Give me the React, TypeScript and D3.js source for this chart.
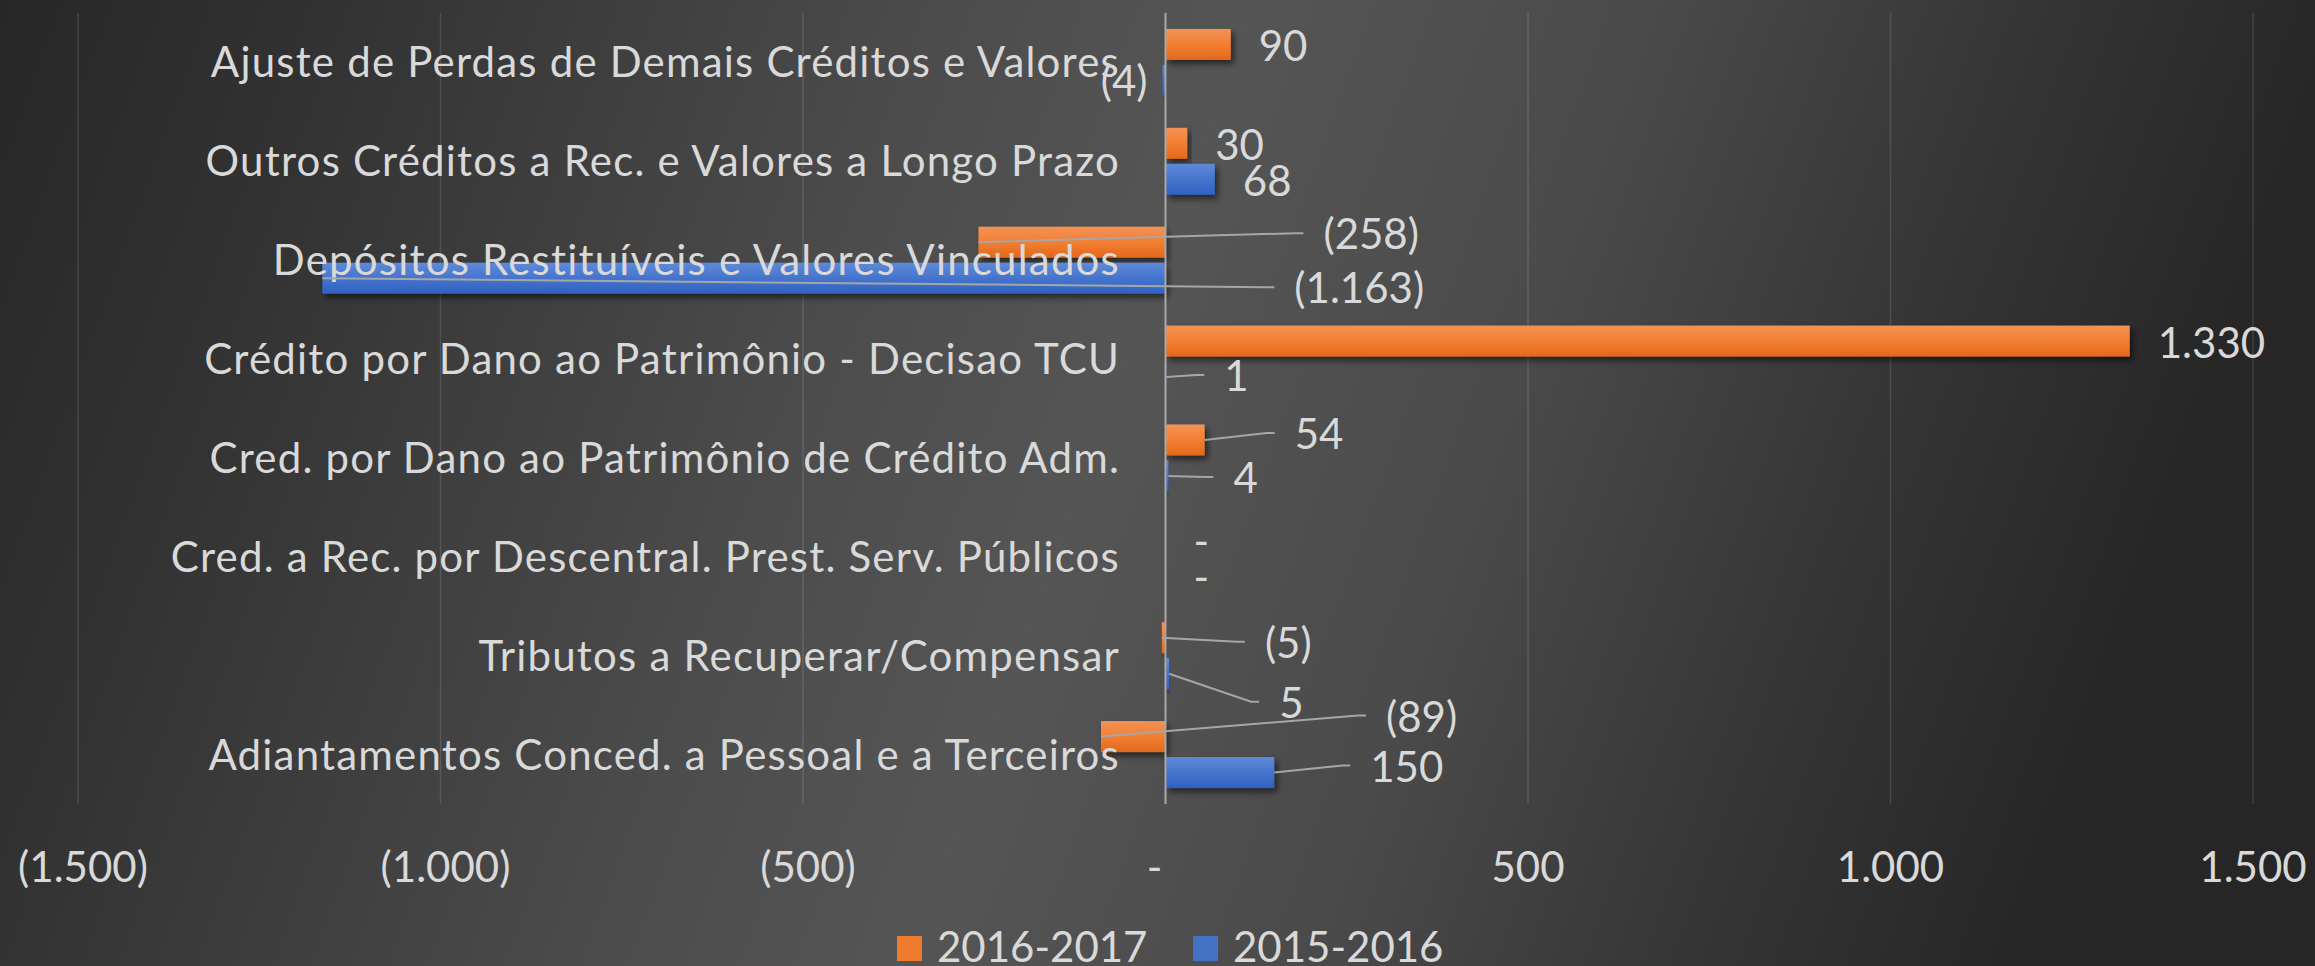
import React from "react";
import * as d3 from "d3";

const categories = [
  "Ajuste de Perdas de Demais Créditos e Valores",
  "Outros Créditos a Rec. e Valores a Longo Prazo",
  "Depósitos Restituíveis e Valores Vinculados",
  "Crédito por Dano ao Patrimônio - Decisao TCU",
  "Cred. por Dano ao Patrimônio de Crédito Adm.",
  "Cred. a Rec. por Descentral. Prest. Serv. Públicos",
  "Tributos a Recuperar/Compensar",
  "Adiantamentos Conced. a Pessoal e a Terceiros",
];
const seriesNames = ["2016-2017", "2015-2016"];
const values20162017 = [90, 30, -258, 1330, 54, 0, -5, -89];
const values20152016 = [-4, 68, -1163, 1, 4, 0, 5, 150];
const xTicks = [-1500, -1000, -500, 0, 500, 1000, 1500];

// manual label placements (Excel moved labels with leader lines): [dx from bar end, dy from bar centre]
const labelMoves: Record<string, [number, number]> = {
  "0-2": [345, -8],
  "1-2": [972, 10],
  "1-3": [58, -1],
  "0-4": [90, -6],
  "1-4": [65, 2],
  "0-6": [103, 5],
  "1-6": [110, 29],
  "0-7": [285, -20],
  "1-7": [96, -6],
};

const W = 2315;
const H = 966;
const FONT = "Lato, 'Open Sans', sans-serif";
const TEXT = "#d9d9d9";

const locale = d3.formatLocale({ decimal: ",", thousands: ".", grouping: [3], currency: ["", ""] });
const fmtInt = locale.format(",d");
const acct = (v: number) => (v === 0 ? "-" : v < 0 ? `(${fmtInt(-v)})` : fmtInt(v));

export default function App() {
  const x = d3.scaleLinear().domain([-1500, 1500]).range([78, 2253]);
  const y = d3
    .scaleBand<string>()
    .domain(categories)
    .range([13, 804])
    .paddingInner(0.3225)
    .paddingOuter(0.16125);
  const yi = d3.scaleBand<string>().domain(seriesNames).range([0, y.bandwidth()]).paddingInner(0.139);
  const seriesValues = [values20162017, values20152016];
  const fills = ["url(#gOrange)", "url(#gBlue)"];
  const legendSwatch = ["#ef7b2f", "#4472c4"];
  const x0 = x(0);

  const bars: JSX.Element[] = [];
  const leaders: JSX.Element[] = [];
  const labels: JSX.Element[] = [];

  seriesValues.forEach((vals, si) => {
    vals.forEach((v, ci) => {
      const cat = categories[ci];
      const top = (y(cat) as number) + (yi(seriesNames[si]) as number);
      const h = yi.bandwidth();
      const cy = top + h / 2;
      const xe = x(v);
      if (v !== 0) {
        bars.push(
          <rect
            key={`b${si}-${ci}`}
            x={Math.min(x0, xe)}
            y={top}
            width={Math.abs(xe - x0)}
            height={h}
            fill={fills[si]}
            filter="url(#shadow)"
          />
        );
      }
      const move = labelMoves[`${si}-${ci}`];
      const txt = acct(v);
      if (move) {
        const lx = xe + move[0];
        const ly = cy + move[1];
        leaders.push(
          <polyline
            key={`l${si}-${ci}`}
            points={`${xe},${cy} ${lx - 28},${ly - 1} ${lx - 20},${ly - 1}`}
            fill="none"
            stroke="#a6a6a6"
            strokeWidth={2}
          />
        );
        labels.push(
          <text key={`t${si}-${ci}`} x={lx} y={ly + 15} fill={TEXT} fontSize={42} fontFamily={FONT}>
            {txt}
          </text>
        );
      } else if (v < 0) {
        labels.push(
          <text key={`t${si}-${ci}`} x={xe - 15} y={cy + 16} fill={TEXT} fontSize={42} fontFamily={FONT} textAnchor="end">
            {txt}
          </text>
        );
      } else {
        labels.push(
          <text key={`t${si}-${ci}`} x={xe + 28} y={cy + 17} fill={TEXT} fontSize={42} fontFamily={FONT}>
            {txt}
          </text>
        );
      }
    });
  });

  const tickShift = (t: number) => (t === 0 ? -11 : t < 0 ? 5 : 0);

  const legendItems = [
    { name: seriesNames[0], x: 897 },
    { name: seriesNames[1], x: 1193 },
  ];

  return (
    <svg width={W} height={H} style={{ position: "absolute", left: 0, top: 0 }}>
      <defs>
        <linearGradient id="bg" x1="0" y1="0" x2="1" y2="0.15">
          <stop offset="0" stopColor="#272727" />
          <stop offset="0.13" stopColor="#313131" />
          <stop offset="0.4" stopColor="#4c4c4c" />
          <stop offset="0.53" stopColor="#555555" />
          <stop offset="0.7" stopColor="#4a4a4a" />
          <stop offset="0.86" stopColor="#353535" />
          <stop offset="1" stopColor="#262626" />
        </linearGradient>
        <linearGradient id="gOrange" x1="0" y1="0" x2="0" y2="1">
          <stop offset="0" stopColor="#f39256" />
          <stop offset="0.5" stopColor="#f27f33" />
          <stop offset="1" stopColor="#e3681b" />
        </linearGradient>
        <linearGradient id="gBlue" x1="0" y1="0" x2="0" y2="1">
          <stop offset="0" stopColor="#5f8ad8" />
          <stop offset="0.5" stopColor="#4574cd" />
          <stop offset="1" stopColor="#2f62c0" />
        </linearGradient>
        <filter id="shadow" x="-10%" y="-30%" width="130%" height="180%">
          <feDropShadow dx="3" dy="4" stdDeviation="3" floodColor="#000" floodOpacity="0.55" />
        </filter>
      </defs>
      <rect x={0} y={0} width={W} height={H} fill="url(#bg)" />
      {xTicks.map((t) => (
        <line key={`g${t}`} x1={x(t)} x2={x(t)} y1={13} y2={804} stroke="rgba(255,255,255,0.12)" strokeWidth={1.5} />
      ))}
      {bars}
      <line x1={x0} x2={x0} y1={13} y2={804} stroke="#a8a8a8" strokeWidth={2} />
      {categories.map((c) => (
        <text
          key={c}
          x={1120}
          y={(y(c) as number) + y.bandwidth() / 2 + 15}
          fill={TEXT}
          fontSize={42}
          fontFamily={FONT}
          letterSpacing={1.2}
          textAnchor="end"
        >
          {c}
        </text>
      ))}
      {leaders}
      {labels}
      {xTicks.map((t) => (
        <text
          key={`t${t}`}
          x={x(t) + tickShift(t)}
          y={882}
          fill={TEXT}
          fontSize={42}
          fontFamily={FONT}
          textAnchor="middle"
        >
          {acct(t)}
        </text>
      ))}
      {legendItems.map((it, i) => (
        <g key={it.name}>
          <rect x={it.x} y={936} width={25} height={25} fill={legendSwatch[i]} />
          <text x={it.x + 40} y={962} fill={TEXT} fontSize={42} fontFamily={FONT}>
            {it.name}
          </text>
        </g>
      ))}
    </svg>
  );
}
